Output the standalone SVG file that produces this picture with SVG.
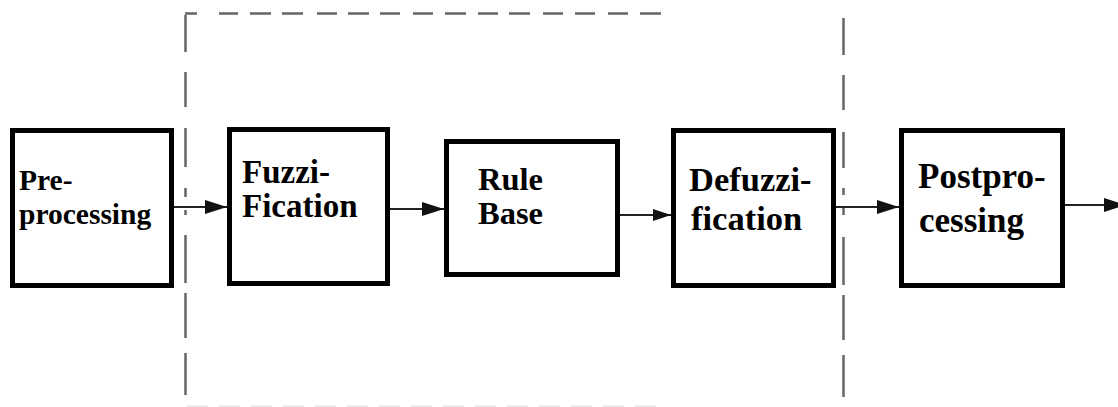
<svg xmlns="http://www.w3.org/2000/svg" width="1118" height="407" viewBox="0 0 1118 407">
<style>
.box{fill:#fff;stroke:#000;stroke-width:5}
.lbl{font-family:"Liberation Serif","Times New Roman",serif;font-weight:bold;fill:#000}
.frame{fill:none;stroke:#666;stroke-width:2.5}
.conn{fill:none;stroke:#222;stroke-width:2.2}
</style>
<defs>
<marker id="ah" markerUnits="userSpaceOnUse" markerWidth="22" markerHeight="14" refX="22" refY="7" orient="auto">
<path d="M0,0 L22,7 L0,14 z" fill="#111"/>
</marker>
<marker id="ahs" markerUnits="userSpaceOnUse" markerWidth="18" markerHeight="12" refX="18" refY="6" orient="auto">
<path d="M0,0 L18,6 L0,12 z" fill="#111"/>
</marker>
</defs>
<rect width="1118" height="407" fill="#fff"/>
<g id="frame">
<path class="frame" d="M185.5,15V52M185.5,72V107M185.5,128V167M185.5,188V197M185.5,210V215M185.5,235V283M185.5,293V338M185.5,353V395"/>
<path class="frame" d="M843.5,18V55M843.5,75V110M843.5,132V168M843.5,188V195M843.5,208V215M843.5,237V285M843.5,295V340M843.5,355V397"/>
<path class="frame" stroke-width="3" d="M185,13.5H197M219,13.5H238M250,13.5H271M282,13.5H303M317,13.5H337M348,13.5H369M380,13.5H400M413,13.5H433M445,13.5H466M478,13.5H498M509,13.5H530M543,13.5H563M575,13.5H595M608,13.5H628M640,13.5H661"/>
<path d="M187,406.5H663" fill="none" stroke="#e6e6e6" stroke-width="2" stroke-dasharray="21 11"/>
</g>
<g id="connectors">
<path class="conn" d="M174,207H227" marker-end="url(#ah)"/>
<path class="conn" d="M390,209H444" marker-end="url(#ah)"/>
<path class="conn" d="M620,215H671" marker-end="url(#ahs)"/>
<path class="conn" d="M836,207H899" stroke-width="4" marker-end="url(#ah)"/>
<path class="conn" d="M1065,205H1126" marker-end="url(#ah)"/>
</g>
<g id="preprocessing">
<rect class="box" x="12.5" y="130.5" width="159" height="155"/>
<text class="lbl" font-size="29.5" x="19" y="190">Pre-</text>
<text class="lbl" font-size="29.5" x="19" y="224">processing</text>
</g>
<g id="fuzzification">
<rect class="box" x="229.5" y="129.5" width="158" height="154"/>
<text class="lbl" font-size="33" x="242" y="183">Fuzzi-</text>
<text class="lbl" font-size="33" x="242" y="217">Fication</text>
</g>
<g id="rulebase">
<rect class="box" x="446.5" y="141.5" width="171" height="133"/>
<text class="lbl" font-size="32.5" x="478" y="190">Rule</text>
<text class="lbl" font-size="32.5" x="478" y="224">Base</text>
</g>
<g id="defuzzification">
<rect class="box" x="673.5" y="130.5" width="160" height="155"/>
<text class="lbl" font-size="34.5" x="689" y="191">Defuzzi-</text>
<text class="lbl" font-size="34.5" x="691" y="230">fication</text>
</g>
<g id="postprocessing">
<rect class="box" x="901.5" y="130.5" width="161" height="155"/>
<text class="lbl" font-size="35" x="918" y="188">Postpro-</text>
<text class="lbl" font-size="35" x="919" y="232">cessing</text>
</g>
</svg>
